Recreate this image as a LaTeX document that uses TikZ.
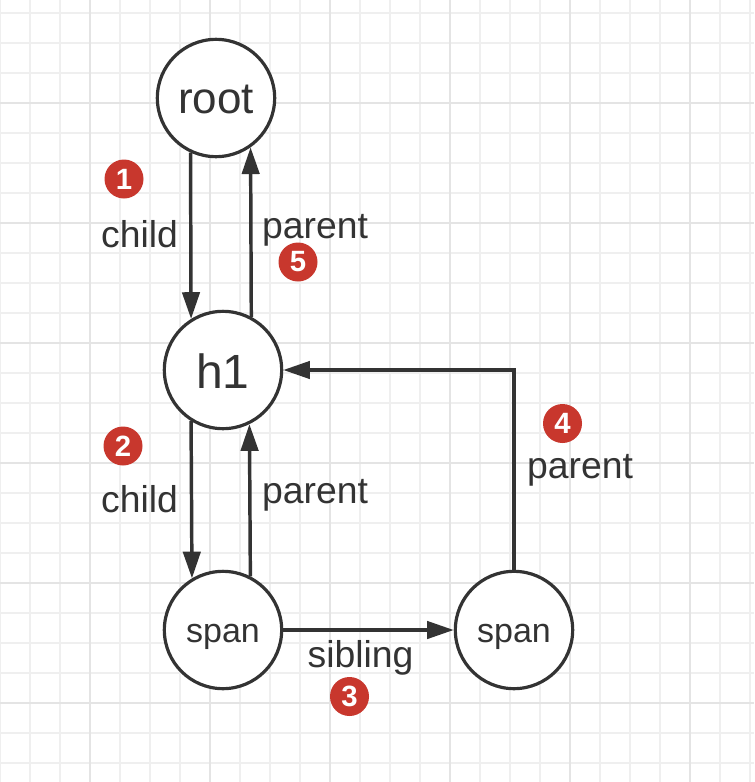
\documentclass[tikz,border=0pt]{standalone}
\usepackage{fontspec}
\setmainfont{Liberation Sans}
\usetikzlibrary{arrows.meta}
\definecolor{ink}{HTML}{333333}
\definecolor{badgered}{HTML}{C8372D}
\definecolor{gridthin}{HTML}{EFEFEF}
\definecolor{gridthick}{HTML}{E4E4E4}
\begin{document}
\begin{tikzpicture}[x=0.75pt,y=-0.75pt,
  state/.style={circle,draw=ink,line width=2.4pt,fill=white,minimum size=88pt,inner sep=0pt,text=ink,text depth=0pt},
  edge/.style={draw=ink,line width=2.6pt,-{Triangle[length=20pt,width=13pt]}},
  lbl/.style={text=ink,font=\fontsize{28}{30}\selectfont,anchor=base,inner sep=0pt},
  badge/.style={circle,fill=badgered,minimum size=29.25pt,inner sep=0pt,text=white,font=\bfseries\fontsize{22}{22}\selectfont}]
\useasboundingbox (0,0) rectangle (754,782);
\fill[white] (0,0) rectangle (754,782);
\foreach \x in {0,30,...,750} \draw[gridthin,line width=1.3pt] (\x,0) -- (\x,782);
\foreach \y in {13,43,...,782} \draw[gridthin,line width=1.3pt] (0,\y) -- (754,\y);
\foreach \x in {90,210,...,690} \draw[gridthick,line width=2pt] (\x,0) -- (\x,782);
\foreach \y in {103,223,...,782} \draw[gridthick,line width=2pt] (0,\y) -- (754,\y);

\node[state,font=\fontsize{33}{33}\selectfont,text height=22.5pt] (root) at (216,98) {root};
\node[state,font=\fontsize{36}{36}\selectfont,text height=27pt] (h1) at (223,370) {h1};
\node[state,font=\fontsize{25.5}{26}\selectfont,text height=18pt] (spanL) at (223,630) {span};
\node[state,font=\fontsize{25.5}{26}\selectfont,text height=18pt] (spanR) at (514,630) {span};

\draw[edge] (root.245.4) -- (h1.122.2);
\draw[edge] (h1.62.2) -- (root.305.7);
\draw[edge] (h1.238.9) -- (spanL.121.1);
\draw[edge] (spanL.63.3) -- (h1.296.7);
\draw[edge] (spanR.north) |- (h1.east);
\draw[edge] (spanL.east) -- (spanR.west);

\node[lbl] (l1) at (139.5,247) {child};
\node[lbl] (l5) at (315,238) {parent};
\node[lbl] (l2) at (139.5,512) {child};
\node[lbl] (l2b) at (315,503) {parent};
\node[lbl] (l4) at (580,478) {parent};
\node[lbl] (l3) at (360.5,667) {sibling};

\node[badge] (b1) at (124,179) {1};
\node[badge] (b5) at (298,262) {5};
\node[badge] (b2) at (123,446) {2};
\node[badge] (b4) at (562.5,423.5) {4};
\node[badge] (b3) at (349.5,696.5) {3};
\end{tikzpicture}
\end{document}
